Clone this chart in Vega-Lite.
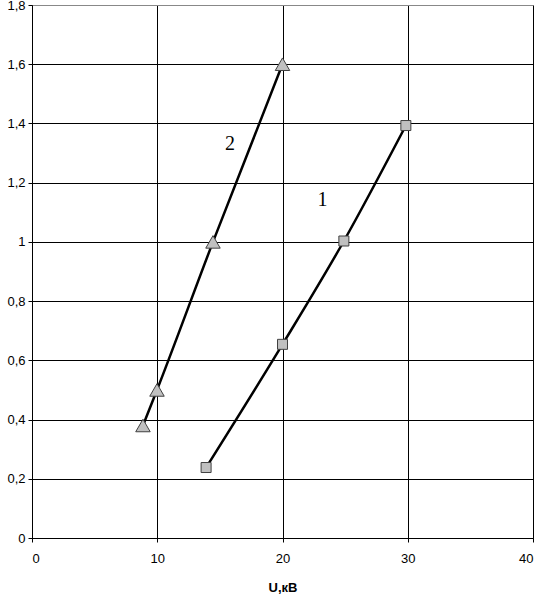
{
  "$schema": "https://vega.github.io/schema/vega-lite/v6.json",
  "width": 501,
  "height": 533,
  "autosize": {"type": "none"},
  "padding": {"left": 32, "top": 5, "right": 8, "bottom": 60},
  "background": "white",
  "config": {
    "view": {"stroke": "#888888", "strokeWidth": 1},
    "font": "Liberation Sans"
  },
  "datasets": {
    "pts": [
      {"series": "1", "U": 13.9, "I": 0.238},
      {"series": "1", "U": 20.0, "I": 0.654},
      {"series": "1", "U": 24.9, "I": 1.003},
      {"series": "1", "U": 29.85, "I": 1.393},
      {"series": "2", "U": 8.86, "I": 0.38},
      {"series": "2", "U": 9.98, "I": 0.5},
      {"series": "2", "U": 14.45, "I": 1.0},
      {"series": "2", "U": 20.0, "I": 1.6}
    ],
    "labels": [
      {"U": 15.8, "I": 1.33, "txt": "2"},
      {"U": 23.2, "I": 1.14, "txt": "1"}
    ]
  },
  "encoding": {
    "x": {
      "field": "U", "type": "quantitative",
      "scale": {"domain": [0, 40], "nice": false, "zero": true},
      "axis": {
        "title": "U,кВ", "values": [0, 10, 20, 30, 40],
        "titleFont": "Liberation Sans", "titleFontSize": 13, "titleFontWeight": "bold", "titleColor": "black",
        "titlePadding": 16,
        "labelFont": "Liberation Sans", "labelFontSize": 13, "labelColor": "black", "labelPadding": 10,
        "domainColor": "black", "tickColor": "black", "tickSize": 4,
        "grid": true, "gridColor": "black", "gridWidth": 1, "gridOpacity": 1
      }
    },
    "y": {
      "field": "I", "type": "quantitative",
      "scale": {"domain": [0, 1.8], "nice": false},
      "axis": {
        "title": null, "values": [0, 0.2, 0.4, 0.6, 0.8, 1, 1.2, 1.4, 1.6, 1.8],
        "labelExpr": "replace(format(datum.value, '.1~f'), '.', ',')",
        "labelFont": "Liberation Sans", "labelFontSize": 13, "labelColor": "black", "labelPadding": 3,
        "domainColor": "black", "tickColor": "black", "tickSize": 4,
        "grid": true, "gridWidth": 1, "gridOpacity": 1,
        "gridColor": {"condition": {"test": "datum.value >= 1.79", "value": "#888888"}, "value": "black"}
      }
    }
  },
  "layer": [
    {
      "data": {"name": "pts"},
      "mark": {"type": "line", "color": "black", "strokeWidth": 2.5, "interpolate": "monotone"},
      "encoding": {"detail": {"field": "series"}}
    },
    {
      "data": {"name": "pts"},
      "mark": {"type": "point", "filled": true, "fill": "#c0c0c0", "stroke": "#404040", "strokeWidth": 1, "opacity": 1},
      "encoding": {
        "shape": {"field": "series", "type": "nominal", "scale": {"domain": ["1", "2"], "range": ["square", "triangle-up"]}, "legend": null},
        "size": {"field": "series", "type": "nominal", "scale": {"domain": ["1", "2"], "range": [100, 210]}, "legend": null}
      }
    },
    {
      "data": {"name": "labels"},
      "mark": {"type": "text", "font": "Liberation Serif", "fontSize": 20, "color": "black"},
      "encoding": {"text": {"field": "txt"}}
    }
  ]
}
